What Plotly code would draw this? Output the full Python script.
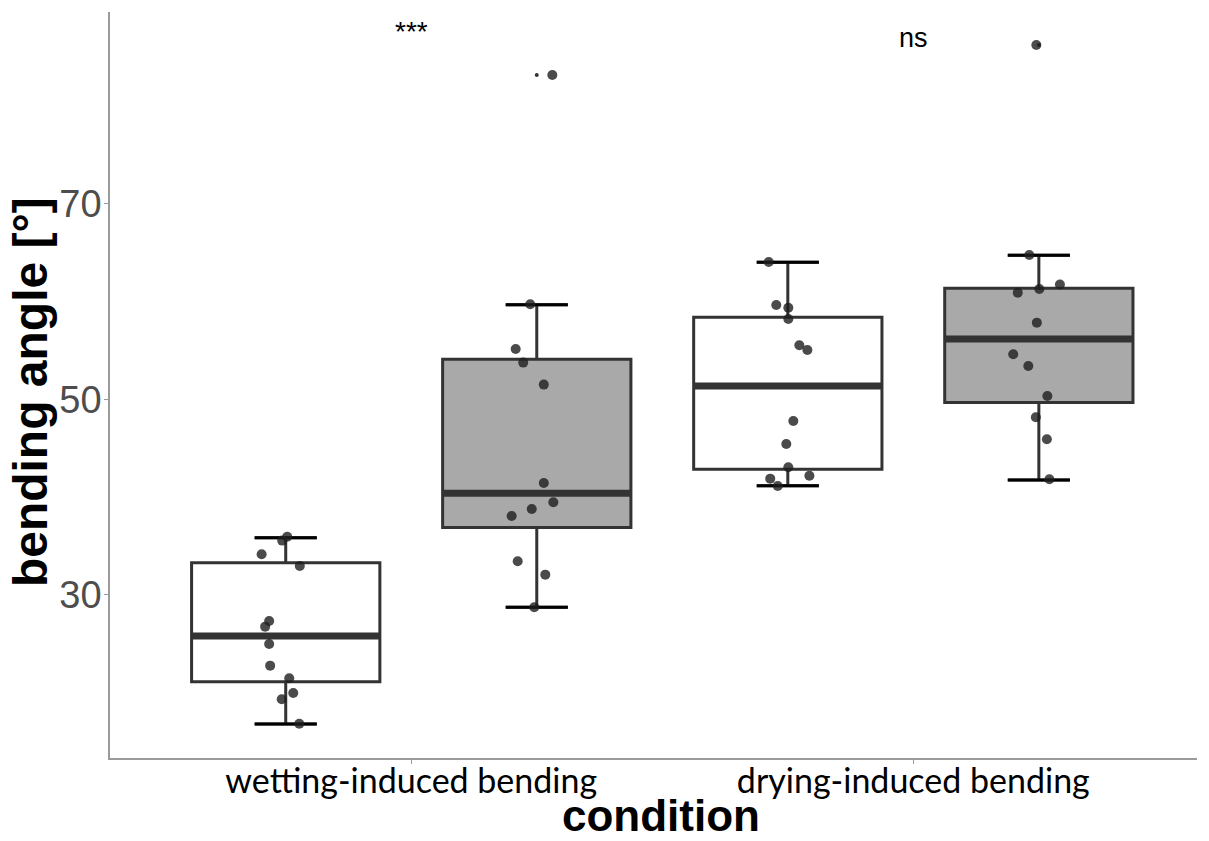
import plotly.graph_objects as go

# ---------------- data ----------------
categories = ["wetting-induced bending", "drying-induced bending"]
box_positions = [0.75, 1.25, 1.75, 2.25]
box_fills = ["#ffffff", "#a9a9a9", "#ffffff", "#a9a9a9"]

lower_whisker = [16.8, 28.74, 41.18, 41.76]
q1_values = [21.13, 36.89, 42.86, 49.68]
median_values = [25.8, 40.4, 51.38, 56.19]
q3_values = [33.3, 54.11, 58.41, 61.37]
upper_whisker = [35.86, 59.7, 64.03, 64.75]
outlier_pos = [1.25, 2.25]
outlier_values = [83.2, 86.27]

wet_white_pts = [35.96, 35.56, 34.16, 32.97, 27.34, 26.76, 24.99, 22.77, 21.48, 19.97, 19.33, 16.83]
wet_white_jit = [0.003, -0.007, -0.048, 0.028, -0.033, -0.041, -0.033, -0.031, 0.007, 0.015, -0.008, 0.027]
wet_grey_pts = [59.74, 55.17, 53.77, 51.52, 41.46, 39.48, 38.80, 38.08, 33.45, 32.08, 28.74, 83.2]
wet_grey_jit = [-0.013, -0.042, -0.027, 0.014, 0.014, 0.033, -0.010, -0.050, -0.038, 0.017, -0.005, 0.031]
dry_white_pts = [64.07, 59.67, 59.39, 58.24, 55.54, 55.06, 47.80, 45.45, 43.06, 42.20, 41.90, 41.15]
dry_white_jit = [-0.038, -0.023, 0.001, 0.001, 0.023, 0.039, 0.011, -0.003, 0.001, 0.043, -0.035, -0.020]
dry_grey_pts = [64.78, 61.77, 61.30, 60.93, 57.86, 54.62, 53.43, 50.36, 48.18, 45.93, 41.84, 86.27]
dry_grey_jit = [-0.019, 0.042, 0.001, -0.042, -0.004, -0.051, -0.021, 0.017, -0.006, 0.016, 0.021, -0.005]

point_sets = [(wet_white_pts, wet_white_jit), (wet_grey_pts, wet_grey_jit),
              (dry_white_pts, dry_white_jit), (dry_grey_pts, dry_grey_jit)]

annot_text = ["***", "ns"]
annot_y = [87.6, 87.0]
x_title = "condition"
y_title = "bending angle [°]"

BOX_W = 0.375
CAP_FRAC = 0.33

fig = go.Figure()

for i, pos in enumerate(box_positions):
    fig.add_trace(go.Box(
        x=[pos], q1=[q1_values[i]], median=[median_values[i]], q3=[q3_values[i]],
        lowerfence=[lower_whisker[i]], upperfence=[upper_whisker[i]],
        width=BOX_W, whiskerwidth=CAP_FRAC, fillcolor=box_fills[i],
        line=dict(color="#333333", width=3), boxpoints=False,
        showlegend=False, hoverinfo="skip"))
    # thick median
    fig.add_trace(go.Scatter(
        x=[pos - BOX_W / 2, pos + BOX_W / 2], y=[median_values[i]] * 2,
        mode="lines", line=dict(color="#333333", width=7),
        showlegend=False, hoverinfo="skip"))
    # black caps
    for yv in (lower_whisker[i], upper_whisker[i]):
        fig.add_trace(go.Scatter(
            x=[pos - BOX_W * CAP_FRAC / 2, pos + BOX_W * CAP_FRAC / 2], y=[yv, yv],
            mode="lines", line=dict(color="#000000", width=3),
            showlegend=False, hoverinfo="skip"))

# boxplot outliers (small)
fig.add_trace(go.Scatter(x=outlier_pos, y=outlier_values, mode="markers",
                         marker=dict(size=4, color="#333333"),
                         showlegend=False, hoverinfo="skip"))

# jittered points
for pos, (vals, jit) in zip(box_positions, point_sets):
    fig.add_trace(go.Scatter(
        x=[pos + j for j in jit], y=vals, mode="markers",
        marker=dict(size=10, color="rgba(30,30,30,0.8)", line=dict(width=0)),
        showlegend=False, hoverinfo="skip"))

for k, (txt, yv) in enumerate(zip(annot_text, annot_y)):
    fig.add_annotation(x=k + 1, y=yv, text=txt, showarrow=False,
                       font=dict(family="Liberation Sans, Arial", size=28 if txt == "***" else 27,
                                 color="#000000"),
                       xanchor="center", yanchor="middle")

# axis titles
fig.add_annotation(xref="paper", yref="paper", x=0.507, y=-0.0777, text=x_title,
                   showarrow=False, xanchor="center", yanchor="middle", borderpad=0,
                   font=dict(family="Liberation Sans, Arial", size=44, color="#000000",
                             weight="bold"))
fig.add_annotation(xref="paper", yref="paper", x=-0.0735, y=0.4906, text=y_title,
                   textangle=-90, showarrow=False, xanchor="center", yanchor="middle",
                   font=dict(family="Liberation Sans, Arial", size=48, color="#000000",
                             weight="bold"))

axis_line = "#9a9a9a"
fig.update_layout(
    width=1209, height=841,
    paper_bgcolor="white", plot_bgcolor="white",
    margin=dict(l=110, r=12, t=12, b=83),
    boxmode="overlay",
    xaxis=dict(range=[0.4, 2.565], tickmode="array", tickvals=[1, 2], ticktext=categories,
               showline=True, linecolor=axis_line, linewidth=1.5,
               ticks="outside", ticklen=4, tickcolor=axis_line,
               showgrid=False, zeroline=False, automargin=False,
               ticklabelstandoff=-12,
               tickfont=dict(family="Lato", size=34, color="#000000")),
    yaxis=dict(range=[13.32, 89.64], tickmode="array", tickvals=[30, 50, 70],
               showline=True, linecolor=axis_line, linewidth=1.5,
               ticks="outside", ticklen=4, tickcolor=axis_line,
               showgrid=False, zeroline=False, automargin=False,
               ticklabelstandoff=-5,
               tickfont=dict(family="Liberation Sans, Arial", size=38, color="#4d4d4d")),
)

fig.write_html("out.html")
